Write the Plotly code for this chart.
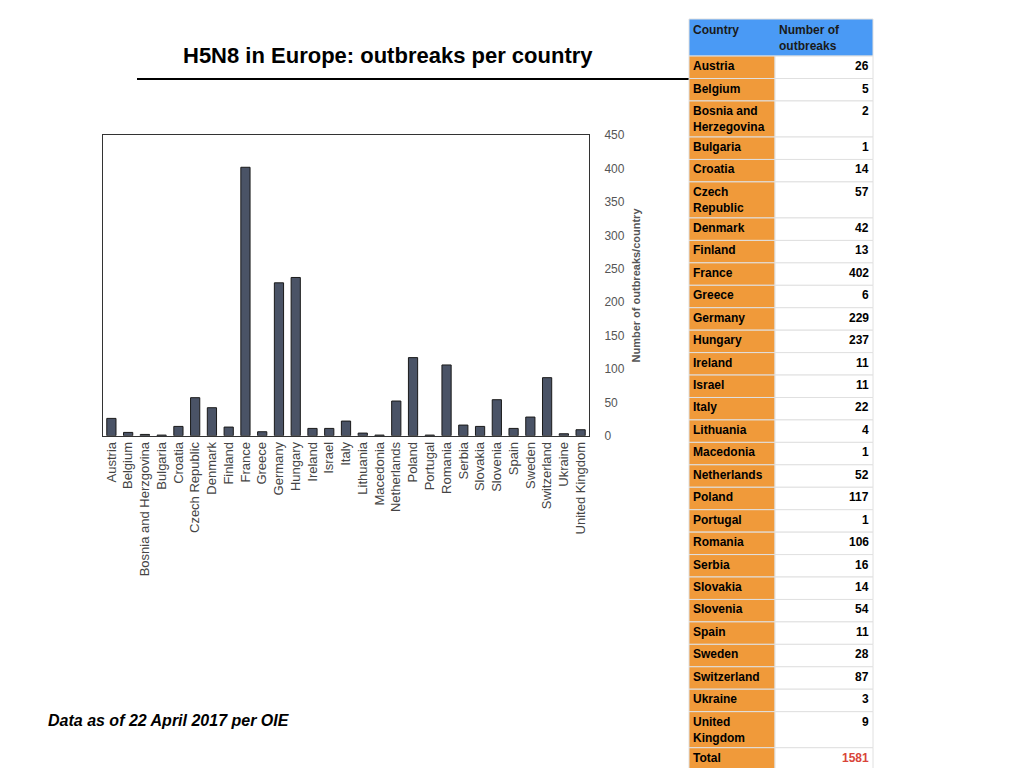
import plotly.graph_objects as go

chart_countries = ["Austria","Belgium","Bosnia and Herzgovina","Bulgaria","Croatia","Czech Republic","Denmark","Finland","France","Greece","Germany","Hungary","Ireland","Israel","Italy","Lithuania","Macedonia","Netherlands","Poland","Portugal","Romania","Serbia","Slovakia","Slovenia","Spain","Sweden","Switzerland","Ukraine","United Kingdom"]
table_countries = ["Austria","Belgium","Bosnia and<br>Herzegovina","Bulgaria","Croatia","Czech<br>Republic","Denmark","Finland","France","Greece","Germany","Hungary","Ireland","Israel","Italy","Lithuania","Macedonia","Netherlands","Poland","Portugal","Romania","Serbia","Slovakia","Slovenia","Spain","Sweden","Switzerland","Ukraine","United<br>Kingdom"]
outbreaks = [26,5,2,1,14,57,42,13,402,6,229,237,11,11,22,4,1,52,117,1,106,16,14,54,11,28,87,3,9]
total = 1581
y_ticks = [0,50,100,150,200,250,300,350,400,450]

W, H = 1024, 768
px = lambda x: (x - 8) / W
py = lambda y: 1 - ((y - 16) / 0.98) / H
FONT = "Liberation Sans"

fig = go.Figure(go.Bar(
    x=chart_countries, y=outbreaks,
    marker=dict(color="#4a5366", line=dict(color="#1a1a1a", width=1)),
    width=0.55,
))
fig.update_layout(
    width=W, height=H, margin=dict(l=0, r=0, t=0, b=0),
    paper_bgcolor="white", plot_bgcolor="white", showlegend=False,
    font=dict(family=FONT, color="#333"),
    xaxis=dict(domain=[px(103), px(589)], tickangle=-90, tickfont=dict(size=13, color="#444"),
               showline=True, linecolor="#333", mirror=True, ticks=""),
    yaxis=dict(domain=[py(436), py(136)], range=[0, 450], side="right", tickvals=y_ticks,
               showgrid=False, zeroline=False, showline=True, linecolor="#333", mirror=True,
               tickfont=dict(size=12, color="#555"), ticklabelstandoff=12,
               title=dict(text="<b>Number of outbreaks/country</b>", font=dict(size=11, color="#555"), standoff=8)),
)

shapes, ann = [], []
ann.append(dict(x=px(388), y=py(56), xref="paper", yref="paper", yanchor="middle", text="<b>H5N8 in Europe: outbreaks per country</b>",
                showarrow=False, font=dict(size=22, color="black", family=FONT)))
shapes.append(dict(type="line", xref="paper", yref="paper", x0=px(137), x1=px(690), y0=py(80), y1=py(80),
                   line=dict(color="black", width=2)))
ann.append(dict(x=px(46), y=py(720), xref="paper", yref="paper", xanchor="left", yanchor="middle", text="<b><i>Data as of 22 April 2017 per OIE</i></b>",
                showarrow=False, font=dict(size=16, color="black", family=FONT)))

x0, x1, x2 = 689, 775, 873
def rect(ya, yb, xa, xb, color):
    shapes.append(dict(type="rect", xref="paper", yref="paper", x0=px(xa), x1=px(xb), y0=py(yb), y1=py(ya),
                       fillcolor=color, line=dict(color="#e0e0e0", width=1)))
def cell_text(text, x, ytop, anchor, color="black"):
    ann.append(dict(x=px(x), y=py(ytop), xref="paper", yref="paper", xanchor=anchor, yanchor="top", align="left",
                    text="<b>" + text + "</b>", showarrow=False, font=dict(size=12, color=color, family=FONT)))

rect(20, 57, x0, x2, "#4a9af5")
ann.append(dict(x=px(691), y=py(22), xref="paper", yref="paper", xanchor="left", yanchor="top", text="<b>Country</b>",
                showarrow=False, font=dict(size=12, color="#1a1a1a", family=FONT)))
ann.append(dict(x=px(777), y=py(22), xref="paper", yref="paper", xanchor="left", yanchor="top", align="left",
                text="<b>Number of<br>outbreaks</b>", showarrow=False, font=dict(size=12, color="#1a1a1a", family=FONT)))

rows = list(zip(table_countries, [str(v) for v in outbreaks])) + [("Total", str(total))]
y = 57.0
for name, val in rows:
    h = 36 if "<br>" in name else 22.4
    rect(y, y + h, x0, x1, "#f09a3a")
    rect(y, y + h, x1, x2, "white")
    cell_text(name, 691, y + 1, "left")
    cell_text(val, 871, y + 1, "right", "#d9453a" if name == "Total" else "black")
    y += h

fig.update_layout(shapes=shapes, annotations=ann)
fig.write_html("out.html")
